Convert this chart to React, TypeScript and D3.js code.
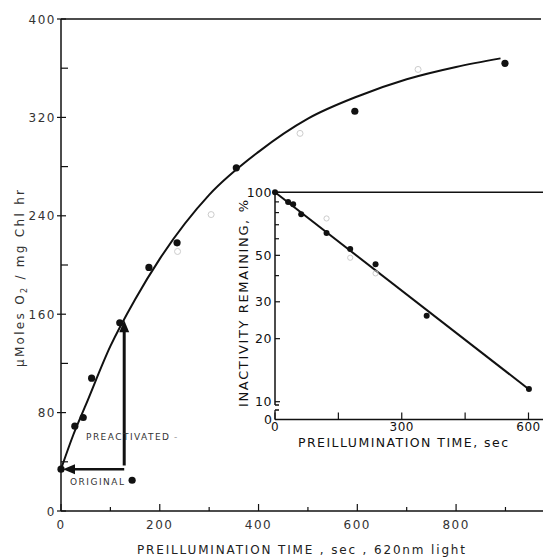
import * as React from 'react';
import * as d3 from 'd3';

// main panel: O2 evolution vs preillumination time
const curveT = [0, 25, 50, 100, 150, 200, 300, 400, 500, 600, 700, 800, 890];
const curveV = [34, 62, 86, 134, 172, 205, 257, 292, 319, 337, 351, 361, 368];
const dotT = [0, 28, 45, 62, 119, 178, 235, 355, 595, 899];
const dotV = [34, 69, 76, 108, 153, 198, 218, 279, 325, 364];
const faintT = [236, 304, 484, 723];
const faintV = [211, 241, 307, 359];
const originalDot = [144, 25];
const mainXTicks = [0, 200, 400, 600, 800];
const mainXMinor = [100, 300, 500, 700, 900];
const mainYTicks = [0, 80, 160, 240, 320, 400];
const mainYMinor = [40, 120, 200, 280, 360];
// arrows: [t, v] ends
const upArrow = [[128, 37], [128, 155]];
const leftArrow = [[128, 34], [4, 34]];

// inset: inactivity remaining (log)
const insetT = [0, 31, 43, 62, 122, 178, 238, 359, 601];
const insetV = [100, 90, 87.6, 78.5, 64, 53.6, 45.3, 25.7, 11.5];
const insetFaintT = [122, 178, 238];
const insetFaintV = [75, 48.7, 41];
const insetLineT = [0, 600];
const insetLineV = [100, 11.5];
const insetXTicks = [0, 300, 600];
const insetXMinor = [150, 450];
const insetYTicks = [10, 20, 30, 50, 100];
const insetYMinor = [40, 60, 70, 80, 90];

const font = '"DejaVu Sans", sans-serif';
const ink = '#111';

export default function App() {
  const x = d3.scaleLinear().domain([0, 976]).range([61, 543]);
  const y = d3.scaleLinear().domain([0, 400]).range([511, 19]);
  const ix = d3.scaleLinear().domain([0, 600]).range([275, 528.5]);
  const iy = d3.scaleLog().domain([10, 100]).range([401.7, 192.3]);
  const insetAxisY = 419.5;

  const curve = d3.line<number>()
    .x((_, i) => x(curveT[i]))
    .y(d => y(d))
    .curve(d3.curveMonotoneX);
  const insetLine = d3.line<number>()
    .x((_, i) => ix(insetLineT[i]))
    .y(d => iy(d));

  const [ua0, ua1] = upArrow;
  const uax = x(ua0[0]), uaTip = y(ua1[1]);
  const [la0, la1] = leftArrow;
  const laY = y(la0[1]), laTip = x(la1[0]);

  return (
    <svg width={543} height={558} style={{ position: 'absolute', left: 0, top: 0, background: '#fff' }}
      fontFamily={font} fill={ink}>
      {/* main axes */}
      <line x1={x(0)} x2={x(0)} y1={y(0)} y2={y(400)} stroke={ink} strokeWidth={1.5} />
      <line x1={x(0)} x2={543} y1={y(0)} y2={y(0)} stroke={ink} strokeWidth={1.5} />
      <line x1={x(0)} x2={541} y1={y(400)} y2={y(400)} stroke={ink} strokeWidth={1.5} />
      {mainYTicks.map(v => (
        <g key={'my' + v}>
          <line x1={x(0) - 4} x2={x(0) + 5} y1={y(v)} y2={y(v)} stroke={ink} strokeWidth={1.2} />
          <text x={x(0) - 5} y={y(v) + 4.5} fontSize={12} letterSpacing={1.5} textAnchor="end" fill="#333">{v}</text>
        </g>
      ))}
      {mainYMinor.map(v => (
        <line key={'mym' + v} x1={x(0)} x2={x(0) + 7} y1={y(v)} y2={y(v)} stroke={ink} strokeWidth={1.2} />
      ))}
      {mainXTicks.map(t => (
        <g key={'mx' + t}>
          <line x1={x(t)} x2={x(t)} y1={y(0)} y2={y(0) - 7} stroke={ink} strokeWidth={1.2} />
          <text x={x(t)} y={529} fontSize={12} letterSpacing={1.5} textAnchor="middle" fill="#333">{t}</text>
        </g>
      ))}
      {mainXMinor.map(t => (
        <line key={'mxm' + t} x1={x(t)} x2={x(t)} y1={y(0)} y2={y(0) - 4} stroke={ink} strokeWidth={1.2} />
      ))}
      <text x={137} y={554} fontSize={12} textLength={328} lengthAdjust="spacing" fill="#222">
        PREILLUMINATION TIME , sec ,  620nm light
      </text>
      <text transform="translate(24,278.5) rotate(-90)" fontSize={12} textAnchor="middle"
        textLength={177} lengthAdjust="spacing" fill="#333">
        μMoles O<tspan fontSize={8} dy={3}>2</tspan><tspan dy={-3}> / mg Chl hr</tspan>
      </text>

      {/* main curve and points */}
      <path d={curve(curveV) || ''} fill="none" stroke={ink} strokeWidth={2} />
      {dotT.map((t, i) => (
        <circle key={'d' + i} cx={x(t)} cy={y(dotV[i])} r={3.6} fill={ink} />
      ))}
      {faintT.map((t, i) => (
        <circle key={'f' + i} cx={x(t)} cy={y(faintV[i])} r={3} fill="none" stroke="#ccc" strokeWidth={1} />
      ))}
      <circle cx={x(originalDot[0])} cy={y(originalDot[1])} r={3.6} fill={ink} />

      {/* arrows */}
      <line x1={uax} x2={uax} y1={y(ua0[1])} y2={uaTip + 8} stroke={ink} strokeWidth={3} />
      <path d={`M${uax},${uaTip} L${uax - 5},${uaTip + 12} L${uax + 5},${uaTip + 12} Z`} fill={ink} />
      <line x1={x(la0[0])} x2={laTip + 8} y1={laY} y2={laY} stroke={ink} strokeWidth={2.5} />
      <path d={`M${laTip},${laY} L${laTip + 12},${laY - 5} L${laTip + 12},${laY + 5} Z`} fill={ink} />
      <text x={86} y={440} fontSize={9} textLength={83} lengthAdjust="spacing" fill="#333">PREACTIVATED</text>
      <text x={174} y={440} fontSize={9} fill="#999">-</text>
      <text x={70} y={485} fontSize={9} textLength={54} lengthAdjust="spacing" fill="#333">ORIGINAL</text>

      {/* inset */}
      <line x1={ix(0)} x2={543} y1={iy(100)} y2={iy(100)} stroke={ink} strokeWidth={1.5} />
      <line x1={ix(0)} x2={ix(0)} y1={iy(100)} y2={405} stroke={ink} strokeWidth={1.5} />
      <path d={`M${ix(0)},405 h4 M${ix(0)},410 h4 M${ix(0)},410 V${insetAxisY}`} fill="none" stroke={ink} strokeWidth={1.3} />
      <line x1={ix(0)} x2={543} y1={insetAxisY} y2={insetAxisY} stroke={ink} strokeWidth={1.5} />
      {insetYTicks.map(v => (
        <g key={'iy' + v}>
          <line x1={ix(0)} x2={ix(0) + 5} y1={iy(v)} y2={iy(v)} stroke={ink} strokeWidth={1.2} />
          <text x={272} y={iy(v) + 4.5} fontSize={12.5} letterSpacing={0.5} textAnchor="end">{v}</text>
        </g>
      ))}
      <text x={272} y={insetAxisY + 4} fontSize={12.5} textAnchor="end">0</text>
      {insetYMinor.map(v => (
        <line key={'iym' + v} x1={ix(0)} x2={ix(0) + 4} y1={iy(v)} y2={iy(v)} stroke={ink} strokeWidth={1.2} />
      ))}
      {insetXTicks.map(t => (
        <g key={'ix' + t}>
          <line x1={ix(t)} x2={ix(t)} y1={insetAxisY} y2={insetAxisY - 7} stroke={ink} strokeWidth={1.2} />
          <text x={ix(t)} y={431} fontSize={12} letterSpacing={0.5} textAnchor="middle">{t}</text>
        </g>
      ))}
      {insetXMinor.map(t => (
        <line key={'ixm' + t} x1={ix(t)} x2={ix(t)} y1={insetAxisY} y2={insetAxisY - 7} stroke={ink} strokeWidth={1.2} />
      ))}
      <text x={298} y={446.5} fontSize={12.5} textLength={210} lengthAdjust="spacing">PREILLUMINATION TIME, sec</text>
      <text transform="translate(248,303.5) rotate(-90)" fontSize={13} textAnchor="middle"
        textLength={207} lengthAdjust="spacing">INACTIVITY REMAINING, %</text>
      <path d={insetLine(insetLineV) || ''} fill="none" stroke={ink} strokeWidth={2} />
      {insetT.map((t, i) => (
        <circle key={'id' + i} cx={ix(t)} cy={iy(insetV[i])} r={3} fill={ink} />
      ))}
      {insetFaintT.map((t, i) => (
        <circle key={'if' + i} cx={ix(t)} cy={iy(insetFaintV[i])} r={2.6} fill="none" stroke="#ccc" strokeWidth={1} />
      ))}
    </svg>
  );
}
